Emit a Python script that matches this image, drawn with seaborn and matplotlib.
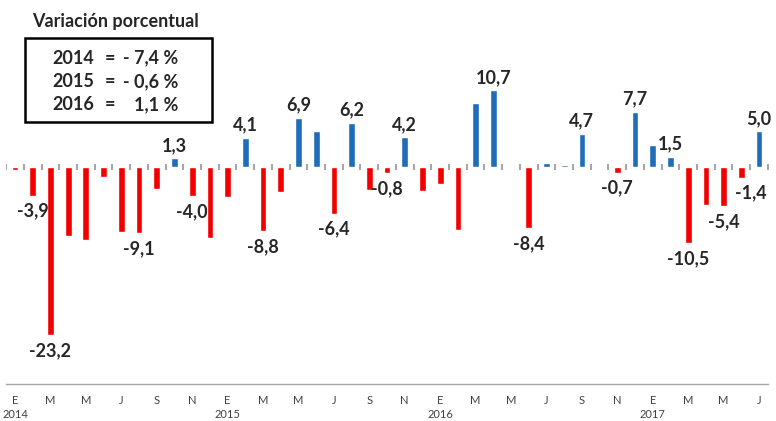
import numpy as np
import pandas as pd
import matplotlib.pyplot as plt
import seaborn as sns

# variacion mensual, enero 2014 - julio 2017
valores = [-0.3, -3.9, -23.2, -9.5, -10.1, -1.3, -8.9, -9.1, -3.0, 1.3, -4.0, -9.8,
           -4.1, 4.1, -8.8, -3.4, 6.9, 5.1, -6.4, 6.2, -3.1, -0.8, 4.2, -3.3,
           -2.3, -8.7, 8.9, 10.7, 0.0, -8.4, 0.6, 0.4, 4.7, 0.15, -0.7, 7.7,
           3.1, 1.5, -10.5, -5.2, -5.4, -1.4, 5.0]

# barras con etiqueta de valor
etiquetadas = [1, 2, 7, 9, 10, 13, 14, 16, 18, 19, 21, 22, 27, 29, 32, 34, 35,
               37, 38, 40, 41, 42]

meses_tick = ["E", "M", "M", "J", "S", "N"] * 3 + ["E", "M", "M", "J"]
anios = ["2014", "2015", "2016", "2017"]

resumen_anios = ["2014", "2015", "2016"]
resumen_valores = ["- 7,4 %", "- 0,6 %", "1,1 %"]

sns.set_style("white")
plt.rcParams['font.family'] = ['Lato', 'DejaVu Sans']

n = len(valores)
df = pd.DataFrame({
    "mes": np.arange(n),
    "valor": valores,
    "signo": np.where(np.array(valores) >= 0, "pos", "neg"),
})

fig = plt.figure(figsize=(7.76, 4.21), dpi=100)
ax = fig.add_axes([0.0079, 1 - 384 / 421, 0.9817, 384 / 421])

sns.barplot(data=df, x="mes", y="valor", hue="signo",
            palette={"pos": "#1F6DB9", "neg": "#F20000"},
            dodge=False, width=0.38, saturation=1, legend=False, ax=ax)

ax.set_xlim(-0.5, n - 0.5)
ax.set_ylim(-30.0, 23.2)

# marcas grises sobre la linea de cero
ax.plot(np.arange(n + 1) - 0.5, np.zeros(n + 1), ls="none", marker="|",
        ms=4, mew=1.5, color="#A6A6A6", zorder=0)

for i in etiquetadas:
    v = valores[i]
    txt = f"{v:.1f}".replace(".", ",")
    dx = 7 if i == 41 else 0
    if v >= 0:
        ax.annotate(txt, (i, v), xytext=(dx, 3), textcoords="offset points",
                    ha="center", va="bottom", fontsize=13, fontweight="bold")
    else:
        ax.annotate(txt, (i, v), xytext=(dx, -5), textcoords="offset points",
                    ha="center", va="top", fontsize=13, fontweight="bold")

etiquetas = []
for k, m in enumerate(meses_tick):
    if m == "E":
        etiquetas.append(m + "\n" + anios[k // 6])
    else:
        etiquetas.append(m)
ax.set_xticks(np.arange(0, n, 2))
ax.set_xticklabels(etiquetas, fontsize=8, color="#404040", linespacing=1.3)
ax.tick_params(axis="x", length=0, pad=8)
ax.set_yticks([])
ax.set_xlabel("")
ax.set_ylabel("")

for s in ["top", "left", "right"]:
    ax.spines[s].set_visible(False)
ax.spines["bottom"].set_color("#A6A6A6")
ax.spines["bottom"].set_linewidth(1)

# titulo y recuadro de resumen
fig.text(32 / 776, 1 - 22 / 421, "Variación porcentual", fontsize=13,
         fontweight="bold", ha="left", va="center")
caja = plt.Rectangle((25 / 776, 1 - 122 / 421), 187 / 776, 84 / 421,
                     transform=fig.transFigure, fill=False, ec="black", lw=1.8)
fig.patches.append(caja)
for k, (a, v) in enumerate(zip(resumen_anios, resumen_valores)):
    y = 1 - (58 + 23.5 * k) / 421
    fig.text(52 / 776, y, a, fontsize=13, fontweight="bold", ha="left", va="center")
    fig.text(110 / 776, y, "=", fontsize=13, fontweight="bold", ha="center", va="center")
    fig.text(178 / 776, y, v, fontsize=13, fontweight="bold", ha="right", va="center")

fig.savefig("out.png", dpi=100)
